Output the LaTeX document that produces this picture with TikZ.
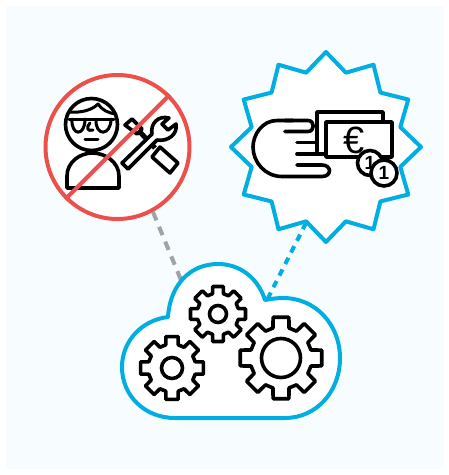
\documentclass[tikz,border=0pt]{standalone}
\usepackage{fontspec}
\setmainfont{Liberation Sans}
\usetikzlibrary{positioning, shapes.geometric}
\definecolor{panel-blue}{RGB}{247, 253, 255}
\definecolor{cloud-blue}{RGB}{0, 174, 226}
\definecolor{ban-red}{RGB}{236, 80, 74}
\definecolor{link-gray}{RGB}{160, 162, 165}
\begin{document}
\begin{tikzpicture}[
  x=1pt, y=-1pt,
  outline/.style={draw=black,line width=3.6pt,line join=round,line cap=round},
  thinline/.style={draw=black,line width=3pt,line join=round,line cap=round},
  banring/.style={circle,draw=ban-red,fill=white,line width=4pt,minimum size=144pt,inner sep=0pt},
  burst/.style={star,star points=12,star point ratio=1.235,draw=cloud-blue,fill=white,
                line width=4pt,line join=round,minimum size=190pt,inner sep=0pt},
  graylink/.style={draw=link-gray,line width=4pt,dash pattern=on 9pt off 7pt},
  bluelink/.style={draw=cloud-blue,line width=4pt,dash pattern=on 7pt off 6pt},
  coin/.style={circle,draw=black,fill=white,line width=3.6pt,inner sep=0pt,
               font=\bfseries\fontsize{19}{19}\selectfont},
  gear/.pic={
    \draw[outline,fill=white] (-15:\gearroot pt)
      \foreach \a in {0,45,...,315} {
        -- (\a-15:\gearroot pt) -- (\a-11:\gearout pt) -- (\a+11:\gearout pt) -- (\a+15:\gearroot pt)
      } -- cycle;
    \draw[outline] (0,0) circle (\gearhole pt);
  }
]
  \useasboundingbox (0,0) rectangle (449,475);
  \fill[panel-blue] (6,6) rectangle (444,469);

  % rings first, links are laid on top
  \node[banring] (ban) at (117.5,147) {};
  \node[burst] (offer) at (326,147) {};
  \coordinate (banfoot) at (153,212);
  \coordinate (cloudleft) at (181,280);
  \coordinate (offerfoot) at (306,223);
  \coordinate (cloudright) at (267,300);
  \draw[graylink] (banfoot) -- (cloudleft);
  \draw[bluelink] (offerfoot) -- (cloudright);

  % cloud
  \draw[cloud-blue,fill=white,line width=4pt,line join=round]
    (168,317) .. controls (170,285) and (190,264) .. (218,264)
    .. controls (240,264) and (258,278) .. (265,300)
    .. controls (270,299) and (277,298) .. (283,298)
    .. controls (316,298) and (340,325) .. (340,358)
    .. controls (340,392) and (316,418) .. (285,418)
    -- (175,418)
    .. controls (145,418) and (122,396) .. (122,367)
    .. controls (122,341) and (142,320) .. (168,317) -- cycle;

  \def\gearroot{21}\def\gearout{28}\def\gearhole{8.5}
  \pic at (218,314) {gear};
  \def\gearroot{24}\def\gearout{32}\def\gearhole{10.5}
  \pic at (172,368) {gear};
  \def\gearroot{31}\def\gearout{41.5}\def\gearhole{19.5}
  \pic at (281,358) {gear};

  % person
  \draw[outline] (91.5,124.5) circle (26);
  \draw[thinline] (69,112) .. controls (82,113) and (92,110) .. (98,104) .. controls (102,110) and (108,113) .. (116,114);
  \draw[thinline] (69,119) -- (114,119);
  \draw[thinline] (72,119) .. controls (71,136) and (85,137) .. (85,119);
  \draw[thinline] (96,119) .. controls (95,137) and (111,136) .. (111,119);
  \draw[thinline] (90,123) .. controls (86,127) and (87,132) .. (93,130);
  \draw[thinline] (85,139) -- (98,139);
  \draw[outline] (67,188) -- (67,176) .. controls (67,162) and (80,153) .. (92.5,153)
    .. controls (105,153) and (119,162) .. (119,176) -- (119,188) -- cycle;

  % tools
  \draw[outline] (125,125) -- (132,119) -- (142,129) -- (137,134) -- cycle;
  \draw[outline] (152,157) -- (160,147) -- (178,163) -- (170,173) -- cycle;
  \draw[outline,line width=5pt,line cap=butt] (139,131) -- (155,148);
  \draw[outline,fill=white] (122,163) -- (128,169) -- (157,140)
    .. controls (168,142) and (178,134) .. (176,124) -- (168,130) -- (162,124) -- (169,118)
    .. controls (158,115) and (150,124) .. (152,134) -- cycle;

  % ban bar
  \draw[ban-red,line width=4pt] (ban.45) -- (ban.225);

  % bills
  \draw[outline] (317,151) -- (317,112) -- (383,112) -- (383,122);
  \draw[outline,fill=white] (326,122) rectangle (392,157);
  \node[font=\fontsize{38}{38}\selectfont] (euro) at (354,140) {€};

  % hand
  \draw[outline,fill=white] (285,120.5) -- (308,120.5)
    .. controls (315,120.5) and (315,131.5) .. (308,131.5) -- (285,131.5);
  \draw[outline] (293,120.5) -- (277,120.5) .. controls (262,120.5) and (253,135) .. (253,147)
    .. controls (253,162) and (265,176.5) .. (282,176.5) -- (322,176.5)
    .. controls (332,176.5) and (332,165) .. (322,165) -- (297,165);
  \draw[outline] (297,142.5) -- (317,142.5);
  \draw[outline] (297,154) -- (325,154);

  % coins
  \node[coin,minimum size=25pt] (coinback) at (370,163) {1};
  \node[coin,minimum size=26pt] (coinfront) at (384,173) {1};
\end{tikzpicture}
\end{document}
